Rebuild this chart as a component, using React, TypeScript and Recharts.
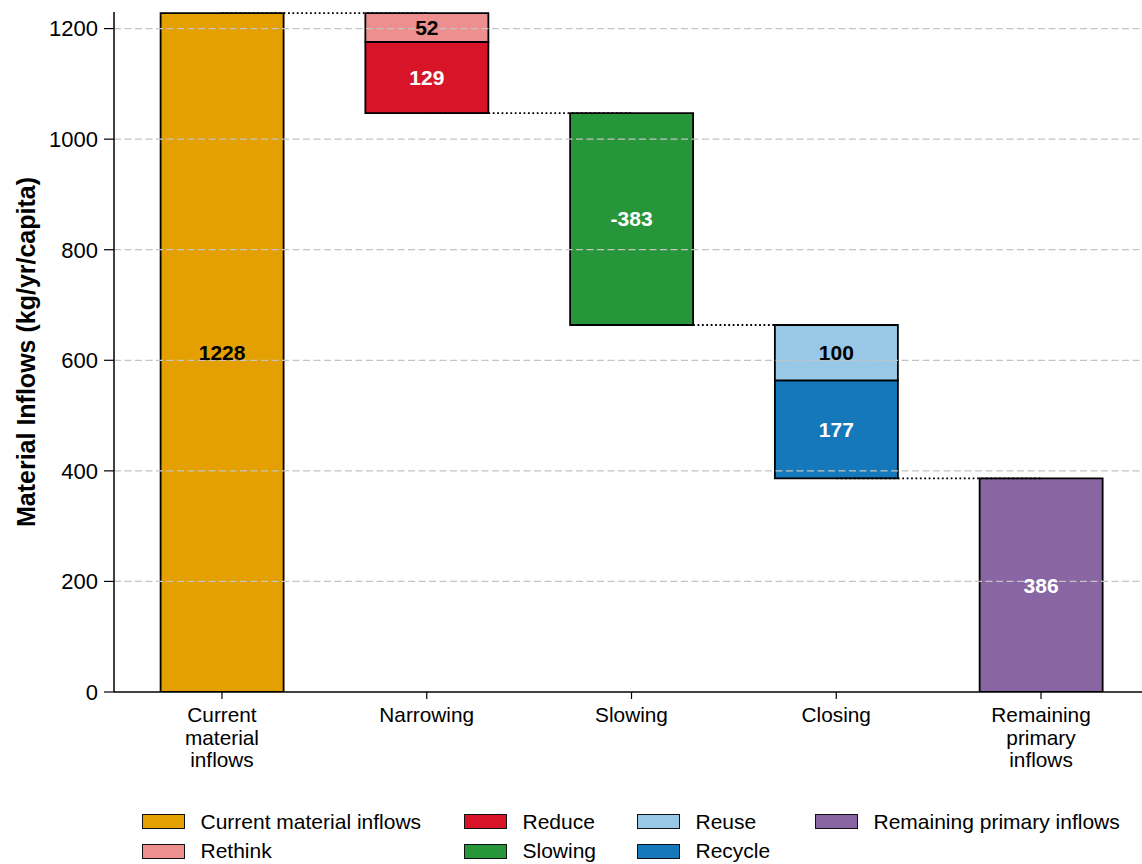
import React from 'react';
import { ComposedChart, Bar, Line, XAxis, YAxis, ReferenceLine, LabelList } from 'recharts';

const categories = ['Current material inflows', 'Narrowing', 'Slowing', 'Closing', 'Remaining primary inflows'];
const tickLines: string[][] = [['Current', 'material', 'inflows'], ['Narrowing'], ['Slowing'], ['Closing'], ['Remaining', 'primary', 'inflows']];
const baseValues = [0, 1047.2, 663.8, 386.3, 0];
const currentValues = [1228, null, null, null, null];
const reduceValues = [null, 128.6, null, null, null];
const rethinkValues = [null, 52.2, null, null, null];
const slowingValues = [null, null, 383.4, null, null];
const recycleValues = [null, null, null, 177.2, null];
const reuseValues = [null, null, null, 100.3, null];
const remainingValues = [null, null, null, null, 386.3];
const connector1 = [1228, 1228, null, null, null];
const connector2 = [null, 1047.2, 1047.2, null, null];
const connector3 = [null, null, 663.8, 663.8, null];
const connector4 = [null, null, null, 386.3, 386.3];
const yTicks = [0, 200, 400, 600, 800, 1000, 1200];
const gridValues = [200, 400, 600, 800, 1000, 1200];

const COLORS = {
  current: '#E3A000',
  rethink: '#EE8F8F',
  reduce: '#D71428',
  slowing: '#27963A',
  reuse: '#98C8E5',
  recycle: '#1578BA',
  remaining: '#8966A3',
};

const legendItems = [
  { name: 'Current material inflows', color: COLORS.current, col: 0, row: 0 },
  { name: 'Rethink', color: COLORS.rethink, col: 0, row: 1 },
  { name: 'Reduce', color: COLORS.reduce, col: 1, row: 0 },
  { name: 'Slowing', color: COLORS.slowing, col: 1, row: 1 },
  { name: 'Reuse', color: COLORS.reuse, col: 2, row: 0 },
  { name: 'Recycle', color: COLORS.recycle, col: 2, row: 1 },
  { name: 'Remaining primary inflows', color: COLORS.remaining, col: 3, row: 0 },
];
const legendColX = [142, 464, 637, 815];
const legendRowY = [821.5, 851];

const data = categories.map((c, i) => ({
  category: c,
  base: baseValues[i],
  current: currentValues[i],
  reduce: reduceValues[i],
  rethink: rethinkValues[i],
  slowing: slowingValues[i],
  recycle: recycleValues[i],
  reuse: reuseValues[i],
  remaining: remainingValues[i],
  c1: connector1[i],
  c2: connector2[i],
  c3: connector3[i],
  c4: connector4[i],
}));

const FONT = '"Liberation Sans", Arial, Helvetica, sans-serif';

const fmt = (v: any) => (v == null || v === 0 ? '' : String(Math.round(Number(v))));
const fmtNeg = (v: any) => (v == null || v === 0 ? '' : '-' + String(Math.round(Number(v))));

const XTick = (props: any) => {
  const { x, y, payload } = props;
  const idx = categories.indexOf(payload.value);
  const lines = idx >= 0 ? tickLines[idx] : [String(payload.value)];
  return (
    <text x={x} y={y} textAnchor="middle" fill="#000" fontSize={20.8} fontFamily={FONT}>
      {lines.map((l, i) => (
        <tspan key={i} x={x} dy={i === 0 ? 17 : 22.5}>
          {l}
        </tspan>
      ))}
    </text>
  );
};

const barStroke = { stroke: '#000', strokeWidth: 1.8 };
const labelStyle = { fontSize: 21, fontWeight: 700, fontFamily: FONT };

export default function App() {
  return (
    <div style={{ position: 'absolute', left: 0, top: 0, width: 1142, height: 864, overflow: 'hidden', background: '#fff' }}>
      <ComposedChart
        width={1150}
        height={864}
        data={data}
        margin={{ top: 12, right: 1, left: 0, bottom: 0 }}
        barCategoryGap={0}
        style={{ fontFamily: FONT }}
      >
        <XAxis
          dataKey="category"
          type="category"
          padding={{ left: 5.6, right: 5.6 }}
          height={172}
          tickSize={7}
          tickMargin={6}
          axisLine={{ stroke: '#000', strokeWidth: 1.5 }}
          tickLine={{ stroke: '#000', strokeWidth: 1.2 }}
          tick={<XTick />}
          interval={0}
        />
        <YAxis
          type="number"
          domain={[0, 1230]}
          ticks={yTicks}
          width={114}
          tickSize={10}
          tickMargin={6}
          axisLine={{ stroke: '#000', strokeWidth: 1.5 }}
          tickLine={{ stroke: '#000', strokeWidth: 1.2 }}
          tick={{ fill: '#000', fontSize: 22, fontFamily: FONT }}
          allowDataOverflow
          label={{
            content: () => (
              <text
                x={26}
                y={352}
                transform="rotate(-90 26 352)"
                textAnchor="middle"
                dominantBaseline="central"
                fontSize={25}
                fontWeight={700}
                fontFamily={FONT}
                fill="#000"
              >
                Material Inflows (kg/yr/capita)
              </text>
            ),
          }}
        />
        <Bar dataKey="base" stackId="a" fill="transparent" barSize={123} isAnimationActive={false} legendType="none" />
        <Bar dataKey="current" name="Current material inflows" stackId="a" fill={COLORS.current} {...barStroke} barSize={123} isAnimationActive={false}>
          <LabelList dataKey="current" position="center" formatter={fmt} fill="#000" style={labelStyle} />
        </Bar>
        <Bar dataKey="reduce" name="Reduce" stackId="a" fill={COLORS.reduce} {...barStroke} barSize={123} isAnimationActive={false}>
          <LabelList dataKey="reduce" position="center" formatter={fmt} fill="#fff" style={labelStyle} />
        </Bar>
        <Bar dataKey="rethink" name="Rethink" stackId="a" fill={COLORS.rethink} {...barStroke} barSize={123} isAnimationActive={false}>
          <LabelList dataKey="rethink" position="center" formatter={fmt} fill="#000" style={labelStyle} />
        </Bar>
        <Bar dataKey="slowing" name="Slowing" stackId="a" fill={COLORS.slowing} {...barStroke} barSize={123} isAnimationActive={false}>
          <LabelList dataKey="slowing" position="center" formatter={fmtNeg} fill="#fff" style={labelStyle} />
        </Bar>
        <Bar dataKey="recycle" name="Recycle" stackId="a" fill={COLORS.recycle} {...barStroke} barSize={123} isAnimationActive={false}>
          <LabelList dataKey="recycle" position="center" formatter={fmt} fill="#fff" style={labelStyle} />
        </Bar>
        <Bar dataKey="reuse" name="Reuse" stackId="a" fill={COLORS.reuse} {...barStroke} barSize={123} isAnimationActive={false}>
          <LabelList dataKey="reuse" position="center" formatter={fmt} fill="#000" style={labelStyle} />
        </Bar>
        <Bar dataKey="remaining" name="Remaining primary inflows" stackId="a" fill={COLORS.remaining} {...barStroke} barSize={123} isAnimationActive={false}>
          <LabelList dataKey="remaining" position="center" formatter={fmt} fill="#fff" style={labelStyle} />
        </Bar>
        {gridValues.map((v) => (
          <ReferenceLine key={v} y={v} stroke="#c4c4c4" strokeWidth={1.2} strokeDasharray="7 3.5" />
        ))}
        {['c1', 'c2', 'c3', 'c4'].map((k) => (
          <Line
            key={k}
            dataKey={k}
            type="linear"
            stroke="#000"
            strokeWidth={1.8}
            strokeDasharray="1.8 2.6"
            dot={false}
            activeDot={false}
            legendType="none"
            isAnimationActive={false}
          />
        ))}
      </ComposedChart>
      {legendItems.map((it) => (
        <div
          key={it.name}
          style={{
            position: 'absolute',
            left: legendColX[it.col],
            top: legendRowY[it.row] - 12,
            height: 24,
            display: 'flex',
            alignItems: 'center',
            fontFamily: FONT,
            fontSize: 21,
            color: '#000',
            whiteSpace: 'nowrap',
          }}
        >
          <div style={{ width: 41, height: 13, background: it.color, border: '1.5px solid #111', marginRight: 15.5 }} />
          <span>{it.name}</span>
        </div>
      ))}
    </div>
  );
}
